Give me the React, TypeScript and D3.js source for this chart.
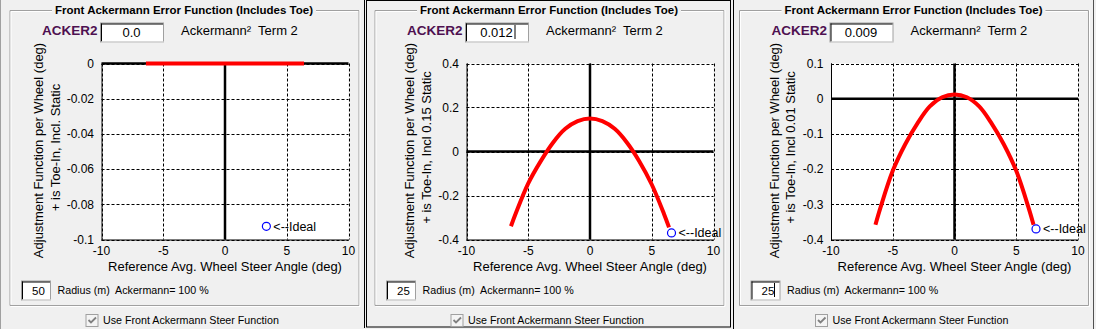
import React from "react";
import * as d3 from "d3";

// values
const steerAngle = [-6.4, -6, -5, -4, -3, -2, -1, 0, 1, 2, 3, 4, 5, 6, 6.4];
const adjAcker000 = [0, 0, 0, 0, 0, 0, 0, 0, 0, 0, 0, 0, 0, 0, 0];
const adjAcker012 = [-0.34, -0.28, -0.145, -0.045, 0.04, 0.103, 0.138, 0.15, 0.138, 0.103, 0.04, -0.045, -0.15, -0.285, -0.345];
const adjAcker009 = [-0.358, -0.31, -0.205, -0.13, -0.07, -0.022, 0.004, 0.012, 0.004, -0.022, -0.07, -0.13, -0.205, -0.31, -0.358];

const idealX = [3.35, 6.6, 6.6];
const idealY = [-0.0925, -0.37, -0.37];

const xTicks = [-10, -5, 0, 5, 10];
const yTicks1 = [-0.1, -0.08, -0.06, -0.04, -0.02, 0];
const yTicks2 = [-0.4, -0.2, 0, 0.2, 0.4];
const yTicks3 = [-0.4, -0.3, -0.2, -0.1, 0, 0.1];
const yTickLabels1 = ["-0.1", "-0.08", "-0.06", "-0.04", "-0.02", "0"];
const yTickLabels2 = ["-0.4", "-0.2", "0", "0.2", "0.4"];
const yTickLabels3 = ["-0.4", "-0.3", "-0.2", "-0.1", "0", "0.1"];

const ackerValues = ["0.0", "0.012", "0.009"];
const radiusValues = ["50", "25", "25"];
const yLabelLine2 = ["+ is Toe-In, Incl. Static", "+ is Toe-In, Incl 0.15 Static", "+ is Toe-In, Incl 0.01  Static"];

const W = 1096;
const H = 329;
const plotLefts = [101.5, 466.5, 831];
const plotWidth = 247;
const plotTop = 63.5;
const plotBottom = 239.5;
const font = "'Liberation Sans', Arial, sans-serif";
const pre = { whiteSpace: "pre" as const };

const series = [adjAcker000, adjAcker012, adjAcker009];
const yTicksAll = [yTicks1, yTicks2, yTicks3];
const yLabelsAll = [yTickLabels1, yTickLabels2, yTickLabels3];
const yLabelOffsets = [[-58.5, -41.5], [-52.5, -36], [-52.5, -36]];

function InputBox({ x, y, w, h }: { x: number; y: number; w: number; h: number }) {
  return (
    <g>
      <rect x={x + 0.5} y={y + 0.5} width={w} height={h} fill="#fff" stroke="#a0a0a0" />
      <line x1={x + 1} y1={y + 1.5} x2={x + w} y2={y + 1.5} stroke="#000" />
      <line x1={x + 1.5} y1={y + 1} x2={x + 1.5} y2={y + h} stroke="#000" />
      <line x1={x + 1} y1={y + h + 0.5} x2={x + w + 1} y2={y + h + 0.5} stroke="#e3e3e3" />
    </g>
  );
}

function Panel({ i }: { i: number }) {
  const pl = plotLefts[i];
  const x = d3.scaleLinear().domain([-10, 10]).range([pl, pl + plotWidth]);
  const yDom = d3.extent(yTicksAll[i]) as [number, number];
  const y = d3.scaleLinear().domain(yDom).range([plotBottom, plotTop]);
  const line = d3
    .line<number>()
    .x((_, k) => x(steerAngle[k]))
    .y((d) => y(d))
    .curve(d3.curveCatmullRom);

  const gbL = pl - 92;
  const gbR = pl + 257;
  const gbT = 10;
  const gbB = 305;
  const titleC = (gbL + gbR) / 2;
  const titleW = 258;
  const cy = (plotTop + plotBottom) / 2;

  return (
    <g>
      {/* etched group box */}
      <g fill="none">
        <path d={`M${titleC - titleW / 2 - 3},${gbT + 0.5}H${gbL + 0.5}V${gbB + 0.5}H${gbR + 0.5}V${gbT + 0.5}H${titleC + titleW / 2 + 3}`} stroke="#a0a0a0" />
        <path d={`M${titleC - titleW / 2 - 3},${gbT + 1.5}H${gbL + 1.5}V${gbB - 0.5}M${gbL + 1},${gbB + 1.5}H${gbR + 1.5}V${gbT}M${gbR - 0.5},${gbT + 1.5}H${titleC + titleW / 2 + 3}`} stroke="#fff" />
      </g>
      <text x={titleC} y={14} textAnchor="middle" fontFamily={font} fontWeight="bold" fontSize={11.5} textLength={titleW} lengthAdjust="spacingAndGlyphs">
        Front Ackermann Error Function (Includes Toe)
      </text>

      {/* top row */}
      <text x={pl - 59.5} y={34.5} fontFamily={font} fontWeight="bold" fontSize={13.5} fill="#4e1050">
        ACKER2
      </text>
      <InputBox x={pl - 1.5} y={22.5} w={63} h={19} />
      <text x={pl + 30} y={36.5} textAnchor="middle" fontFamily={font} fontSize={13}>
        {ackerValues[i]}
      </text>
      {i === 1 && <line x1={pl + 48.5} y1={25} x2={pl + 48.5} y2={39} stroke="#000" />}
      <text x={pl + 79.5} y={35} fontFamily={font} fontSize={13} style={pre}>
        {"Ackermann²  Term 2"}
      </text>

      {/* plot */}
      <rect x={pl} y={plotTop} width={plotWidth} height={plotBottom - plotTop} fill="#fff" />
      <g stroke="#000" strokeWidth={1} strokeDasharray="3,2" fill="none">
        {xTicks.map((t) => (
          <line key={"gx" + t} x1={Math.round(x(t)) + 0.5} x2={Math.round(x(t)) + 0.5} y1={plotTop} y2={plotBottom} />
        ))}
        {yTicksAll[i].map((t) => (
          <line key={"gy" + t} x1={pl} x2={pl + plotWidth} y1={Math.round(y(t)) + 0.5} y2={Math.round(y(t)) + 0.5} />
        ))}
      </g>
      <g stroke="#000" strokeWidth={1}>
        <line x1={pl + 0.5} x2={pl + 0.5} y1={plotTop} y2={plotBottom + 0.5} />
        <line x1={pl} x2={pl + plotWidth + 0.5} y1={plotBottom + 0.5} y2={plotBottom + 0.5} />
      </g>
      <g stroke="#000" strokeWidth={2.5}>
        <line x1={x(0)} x2={x(0)} y1={plotTop} y2={plotBottom} />
        <line x1={pl} x2={pl + plotWidth} y1={y(0)} y2={y(0)} />
      </g>
      <path d={line(series[i]) ?? ""} fill="none" stroke="#ff0000" strokeWidth={4} strokeLinejoin="round" />
      <circle cx={x(idealX[i])} cy={y(idealY[i])} r={4} fill="none" stroke="#0000ff" strokeWidth={1.2} />
      <text x={x(idealX[i]) + 7} y={y(idealY[i])} dy="0.36em" fontFamily={font} fontSize={12.5}>
        {"<--Ideal"}
      </text>

      {/* tick labels */}
      <g fontFamily={font} fontSize={12}>
        {xTicks.map((t) => (
          <text key={"tx" + t} x={x(t)} y={255} textAnchor="middle">
            {String(t)}
          </text>
        ))}
        {yTicksAll[i].map((t, k) => (
          <text key={"ty" + t} x={pl - 7.5} y={y(t)} dy="0.36em" textAnchor="end">
            {yLabelsAll[i][k]}
          </text>
        ))}
      </g>

      {/* axis titles */}
      <text x={x(0)} y={271} textAnchor="middle" fontFamily={font} fontSize={13}>
        Reference Avg. Wheel Steer Angle (deg)
      </text>
      <g fontFamily={font} fontSize={13} textAnchor="middle" style={pre}>
        <text transform={`translate(${pl + yLabelOffsets[i][0]},${cy - 1}) rotate(-90)`}>Adjustment Function per Wheel (deg)</text>
        <text transform={`translate(${pl + yLabelOffsets[i][1]},${cy - 4}) rotate(-90)`}>{yLabelLine2[i]}</text>
      </g>

      {/* bottom row */}
      <InputBox x={pl - 80.5} y={280.5} w={29} h={19} />
      <text x={pl - 69.5} y={295} fontFamily={font} fontSize={11.5}>
        {radiusValues[i]}
      </text>
      {i === 2 && <line x1={pl - 56.5} y1={283} x2={pl - 56.5} y2={297} stroke="#000" />}
      <text x={pl - 44} y={293.5} fontFamily={font} fontSize={10.7} style={pre}>
        {"Radius (m)  Ackermann= 100 %"}
      </text>

      <rect x={pl - 15.5} y={314.5} width={12} height={12} fill="#f4f4f4" stroke="#a0a0a0" />
      <path d={`M${pl - 13},${320}l2.5,2.5l5,-5`} fill="none" stroke="#808080" strokeWidth={1.8} />
      <text x={pl + 1.5} y={323.5} fontFamily={font} fontSize={10.7}>
        Use Front Ackermann Steer Function
      </text>
    </g>
  );
}

export default function App() {
  return (
    <svg width={W} height={H} style={{ position: "absolute", left: 0, top: 0 }} xmlns="http://www.w3.org/2000/svg">
      <rect x={0} y={0} width={W} height={H} fill="#f0f0f0" />
      {/* dialog window frames */}
      <line x1={0.5} y1={0} x2={0.5} y2={H} stroke="#a0a0a0" />
      <line x1={364.5} y1={0} x2={364.5} y2={328} stroke="#000" />
      <rect x={366.5} y={0.5} width={364} height={326.5} fill="none" stroke="#000" />
      <line x1={733.5} y1={0} x2={733.5} y2={H} stroke="#000" />
      <line x1={1093.5} y1={0} x2={1093.5} y2={H} stroke="#505050" />
      {[0, 1, 2].map((i) => (
        <Panel key={i} i={i} />
      ))}
    </svg>
  );
}
